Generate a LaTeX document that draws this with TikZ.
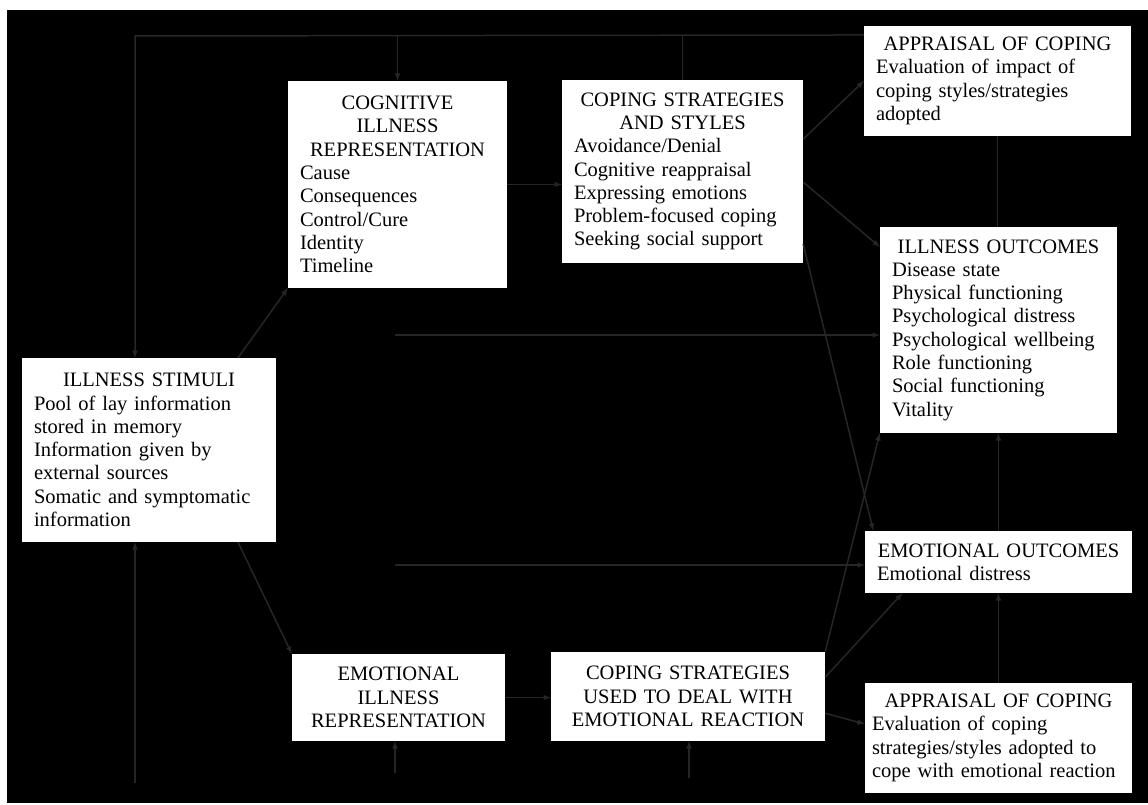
\documentclass[tikz,border=0pt]{standalone}
\usepackage{fontspec}
\setmainfont{Liberation Serif}
\newcommand{\hd}[1]{{\centering #1\par}}

\begin{document}
\begin{tikzpicture}[x=1pt, y=-1pt, font=\fontsize{20.5}{23.3}\selectfont,
    blk/.style 2 args={fill=white, text width=#1, minimum height=#2, inner xsep=12pt, inner ysep=0pt},
    link/.style={draw=black!85, line width=1.5pt},
    arr/.style={link, -latex}]
    % page and black panel
    \fill[white] (0,0) rectangle (1148,805);
    \fill[black] (7,10) rectangle (1148,803);

    \node[blk={195pt}{207pt}] (cog) at (397.5,184.5)
        {\hd{COGNITIVE\\ILLNESS\\REPRESENTATION}Cause\\Consequences\\Control/Cure\\Identity\\Timeline};
    \node[blk={230pt}{184pt}] (stim) at (149,450)
        {\hd{ILLNESS STIMULI}Pool of lay information\\stored in memory\\Information given by\\external sources\\Somatic and symptomatic\\information};
    \node[blk={217pt}{183pt}] (cope) at (682.5,171.5)
        {\hd{COPING STRATEGIES\\AND STYLES}Avoidance/Denial\\Cognitive reappraisal\\Expressing emotions\\Problem-focused coping\\Seeking social support};
    \node[blk={243pt}{110pt}] (aptop) at (997.5,81)
        {\hd{APPRAISAL OF COPING}Evaluation of impact of\\coping styles/strategies\\adopted};
    \node[blk={213pt}{206pt}] (illout) at (998.5,330)
        {\hd{ILLNESS OUTCOMES}Disease state\\Physical functioning\\Psychological distress\\Psychological wellbeing\\Role functioning\\Social functioning\\Vitality};
    \node[blk={251pt}{62pt}, inner xsep=8pt] (emoout) at (998.5,562)
        {\hd{EMOTIONAL OUTCOMES}\hspace*{4pt}Emotional distress};
    \node[blk={253pt}{110pt}, inner xsep=7pt] (apbot) at (998.5,738)
        {\hd{APPRAISAL OF COPING}Evaluation of coping\\strategies/styles adopted to\\cope with emotional reaction};
    \node[blk={250pt}{89pt}] (copeused) at (688,696.5)
        {\hd{COPING STRATEGIES\\USED TO DEAL WITH\\EMOTIONAL REACTION}};
    \node[blk={189pt}{87pt}] (emorep) at (398.5,697.5)
        {\hd{EMOTIONAL\\ILLNESS\\REPRESENTATION}};

    \draw[arr] (stim.46) -- (cog.south west);
    \draw[arr] (stim.314) -- (emorep.north west);
    \draw[arr] (cog.east) -- (cog.east -| cope.west);
    \draw[arr] (emorep.east) -- (emorep.east -| copeused.west);
    \draw[arr] (cope.15) -- (aptop.west);
    \draw[arr] (cope.-5) -- (illout.145);
    \draw[arr] (cope.-31) -- (emoout.166);
    \draw[arr] (copeused.north east) -- (illout.south west);
    \draw[arr] (copeused.8) -- (emoout.198);
    \draw[arr] (copeused.-7) -- (apbot.174);

    \coordinate (m1) at (395,335);
    \coordinate (m2) at (395,565);
    \draw[arr] (m1) -- (m1 -| illout.west);
    \draw[arr] (m2) -- (m2 -| emoout.west);

    % feedback along the top
    \coordinate (tl) at (135,36);
    \draw[arr] (aptop.161) -- (tl) -- (tl |- stim.north);
    \draw[arr] (cog.north |- tl) -- (cog.north);
    \draw[link] (cope.north |- tl) -- (cope.north);

    \draw[link] (aptop.south) -- (aptop.south |- illout.north);
    \draw[arr] (emoout.north) -- (illout.south);
    \draw[arr] (apbot.north) -- (emoout.south);

    % stubs at the bottom
    \coordinate (bl) at (135,783);
    \coordinate (b1) at (395,773);
    \coordinate (b2) at (689,778);
    \draw[arr] (bl) -- (bl |- stim.south);
    \draw[arr] (b1) -- (b1 |- emorep.south);
    \draw[arr] (b2) -- (b2 |- copeused.south);
\end{tikzpicture}
\end{document}
